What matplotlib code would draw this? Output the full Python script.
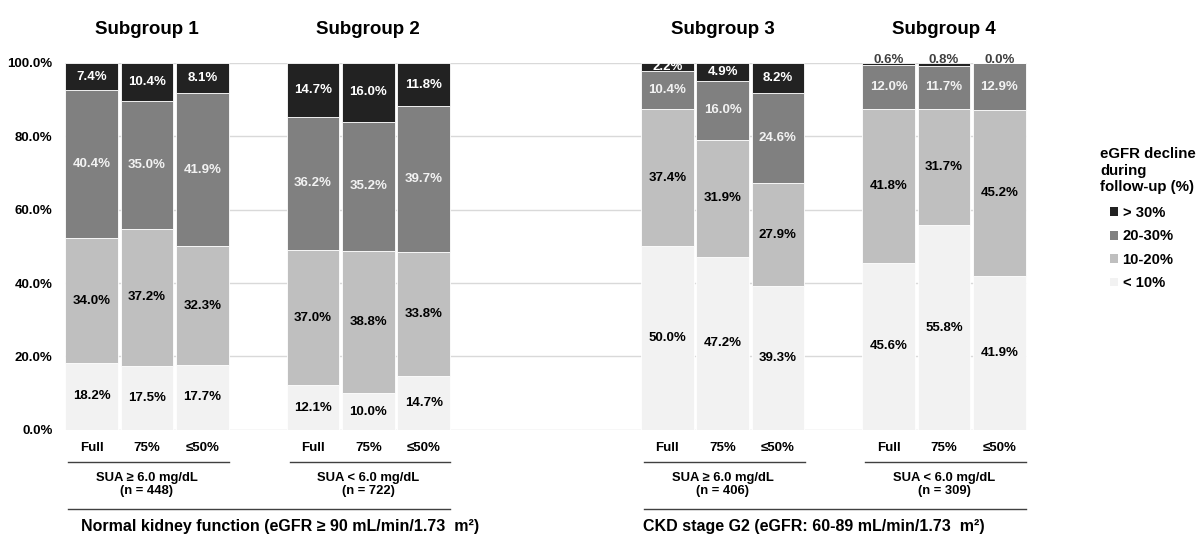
import matplotlib.pyplot as plt
from matplotlib.patches import Patch
import numpy as np

plt.rcParams['font.family'] = ['Liberation Sans', 'DejaVu Sans']
plt.rcParams['font.weight'] = 'bold'

# percentages, bottom to top: <10%, 10-20%, 20-30%, >30%
bars = ["Full", "75%", "≤50%"] * 4
lt10 = [18.2, 17.5, 17.7, 12.1, 10.0, 14.7, 50.0, 47.2, 39.3, 45.6, 55.8, 41.9]
p10_20 = [34.0, 37.2, 32.3, 37.0, 38.8, 33.8, 37.4, 31.9, 27.9, 41.8, 31.7, 45.2]
p20_30 = [40.4, 35.0, 41.9, 36.2, 35.2, 39.7, 10.4, 16.0, 24.6, 12.0, 11.7, 12.9]
gt30 = [7.4, 10.4, 8.1, 14.7, 16.0, 11.8, 2.2, 4.9, 8.2, 0.6, 0.8, 0.0]

subgroups = ["Subgroup 1", "Subgroup 2", "Subgroup 3", "Subgroup 4"]
sua_labels = ["SUA ≥ 6.0 mg/dL\n(n = 448)", "SUA < 6.0 mg/dL\n(n = 722)",
              "SUA ≥ 6.0 mg/dL\n(n = 406)", "SUA < 6.0 mg/dL\n(n = 309)"]
kidney_labels = ["Normal kidney function (eGFR ≥ 90 mL/min/1.73  m²)",
                 "CKD stage G2 (eGFR: 60-89 mL/min/1.73  m²)"]
legend_labels = ["> 30%", "20-30%", "10-20%", "< 10%"]

colors = ["#f2f2f2", "#bfbfbf", "#808080", "#222222"]
text_colors = ["black", "black", "#f2f2f2", "white"]

group_start = [0, 4, 10.4, 14.4]
x = np.array([s + i for s in group_start for i in range(3)])

fig = plt.figure(figsize=(12.04, 5.36), dpi=100)
ax = fig.add_axes([0.054, 0.198, 0.799, 0.6845])

series = [lt10, p10_20, p20_30, gt30]
bottom = np.zeros(len(x))
for k, vals in enumerate(series):
    vals = np.array(vals)
    ax.bar(x, vals, bottom=bottom, width=0.95, color=colors[k],
           edgecolor="white", linewidth=0.6, zorder=2)
    for xi, b, v in zip(x, bottom, vals):
        if k == 3 and v < 1.5:
            ax.text(xi, 99.2, f"{v:.1f}%", ha="center", va="bottom",
                    fontsize=9.5, color="#404040", fontweight="bold", zorder=3)
        else:
            ax.text(xi, b + v / 2, f"{v:.1f}%", ha="center", va="center",
                    fontsize=9.5, color=text_colors[k], fontweight="bold", zorder=3)
    bottom += vals

ax.set_xlim(-0.48, 16.9)
ax.set_ylim(0, 100)
ax.set_yticks(np.arange(0, 101, 20))
ax.set_yticklabels([f"{t:.1f}%" for t in np.arange(0, 101, 20)])
ax.tick_params(axis="y", length=0, labelsize=9.5, pad=9)
ax.set_xticks([])
ax.yaxis.grid(True, color="#d9d9d9", linewidth=1, zorder=0)
ax.set_axisbelow(True)
for s in ax.spines.values():
    s.set_visible(False)

for xi, lab in zip(x, bars):
    ax.text(xi, -4.9, lab, ha="center", va="center", fontsize=9.5, clip_on=False)

for g, s in enumerate(group_start):
    ax.text(s + 1, 109.2, subgroups[g], ha="center", va="center", fontsize=13.5,
            fontweight="bold", clip_on=False)
    ax.plot([s - 0.42, s + 2.48], [-8.7, -8.7], color="#404040", lw=1, clip_on=False)
    ax.text(s + 1, -15, sua_labels[g], ha="center", va="center", fontsize=9.4,
            linespacing=1.1, clip_on=False)

for (a, b), off, lab in zip([(0, 1), (2, 3)], [0.37, -0.38], kidney_labels):
    x0 = group_start[a] - 0.42
    x1 = group_start[b] + 2.48
    ax.plot([x0, x1], [-21.5, -21.5], color="#404040", lw=1, clip_on=False)
    ax.text((x0 + x1) / 2 + off, -26.4, lab, ha="center", va="center",
            fontsize=11.5, clip_on=False)

fig.text(1100 / 1204, 1 - 147 / 536, "eGFR decline\nduring\nfollow-up (%)",
         ha="left", va="top", fontsize=10.8, fontweight="bold", linespacing=1.25)

handles = [Patch(facecolor=colors[3 - i], edgecolor="none") for i in range(4)]
leg = fig.legend(handles, legend_labels, loc="upper left",
                 bbox_to_anchor=(1110 / 1204, 1 - 206 / 536), frameon=False,
                 fontsize=10.6, handlelength=0.55, handleheight=0.55, handletextpad=0.3,
                 labelspacing=0.64, borderpad=0, borderaxespad=0)

fig.savefig("out.png", dpi=100)
